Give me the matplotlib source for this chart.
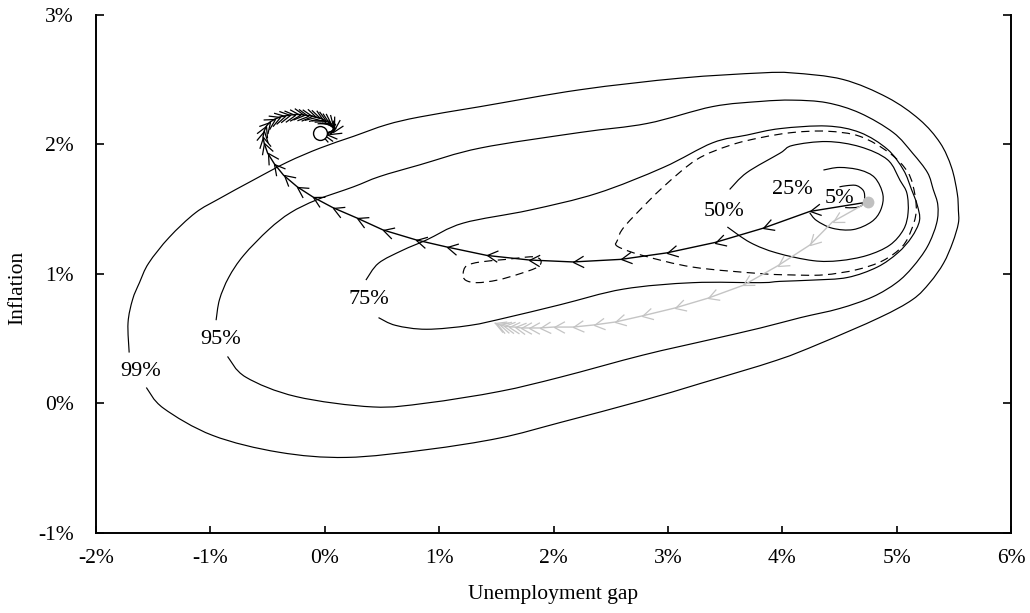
import numpy as np
import matplotlib
matplotlib.use('Agg')
import matplotlib.pyplot as plt
from matplotlib.path import Path
from matplotlib.patches import PathPatch
from matplotlib.markers import MarkerStyle
from matplotlib.transforms import Affine2D

plt.rcParams['font.family'] = ['Liberation Serif', 'DejaVu Serif']

# ---------------- data (unemployment gap %, inflation %) ----------------
c99_x = [-1.71, -1.72, -1.68, -1.62, -1.54, -1.36, -1.13, -0.92, -0.63, -0.33, -0.04, 0.25, 0.54, 0.83,
         1.36, 2.23, 3.11, 3.81, 4.09, 4.53, 4.92, 5.20, 5.38, 5.48, 5.53, 5.54, 5.54, 5.49, 5.41, 5.29,
         5.14, 4.85, 4.33, 3.95, 3.28, 2.78, 2.06, 1.53, 0.89, 0.19, -0.40, -0.98, -1.41, -1.56]
c99_y = [0.39, 0.62, 0.80, 0.93, 1.08, 1.28, 1.47, 1.58, 1.72, 1.86, 1.97, 2.06, 2.15, 2.21,
         2.29, 2.42, 2.51, 2.55, 2.55, 2.50, 2.36, 2.19, 2.01, 1.82, 1.62, 1.49, 1.39, 1.24, 1.08, 0.93,
         0.80, 0.66, 0.46, 0.33, 0.15, 0.02, -0.15, -0.27, -0.36, -0.42, -0.38, -0.25, -0.04, 0.12]

c95_x = [-0.95, -0.92, -0.84, -0.71, -0.49, -0.30, -0.07, 0.25, 0.48, 0.83, 1.36, 2.23, 2.82, 3.39,
         3.81, 4.09, 4.39, 4.68, 4.97, 5.14, 5.27, 5.32, 5.36, 5.35, 5.27, 5.14, 5.00, 4.79, 4.50, 4.16,
         3.81, 3.37, 2.78, 2.06, 1.53, 0.89, 0.42, -0.25, -0.69, -0.85]
c95_y = [0.64, 0.80, 0.97, 1.14, 1.34, 1.47, 1.57, 1.67, 1.75, 1.84, 1.97, 2.09, 2.16, 2.29,
         2.33, 2.34, 2.32, 2.24, 2.09, 1.93, 1.78, 1.65, 1.53, 1.39, 1.21, 1.05, 0.93, 0.82, 0.73, 0.66,
         0.58, 0.49, 0.37, 0.20, 0.09, 0.00, -0.03, 0.05, 0.20, 0.36]

c75_x = [0.36, 0.47, 0.68, 0.89, 1.21, 1.79, 2.38, 2.96, 3.39, 3.69, 3.98, 4.39, 4.68, 4.92, 5.06,
         5.13, 5.18, 5.20, 5.13, 5.01, 4.83, 4.57, 4.27, 3.98, 3.81, 3.22, 2.61, 2.06, 1.59, 1.27,
         0.89, 0.62, 0.47]
c75_y = [0.95, 1.08, 1.18, 1.26, 1.39, 1.49, 1.62, 1.82, 2.01, 2.07, 2.12, 2.14, 2.09, 1.96, 1.80,
         1.65, 1.53, 1.41, 1.28, 1.16, 1.05, 0.97, 0.95, 0.94, 0.93, 0.93, 0.88, 0.76, 0.66, 0.60,
         0.57, 0.60, 0.66]

c50_x = [3.54, 3.69, 3.98, 4.09, 4.39, 4.68, 4.92, 5.03, 5.09, 5.10, 5.06, 4.94, 4.74, 4.50, 4.27,
         3.95, 3.72, 3.52]
c50_y = [1.65, 1.78, 1.93, 1.99, 2.02, 1.98, 1.88, 1.72, 1.62, 1.47, 1.34, 1.22, 1.14, 1.10, 1.10,
         1.16, 1.24, 1.36]

c25_x = [4.36, 4.50, 4.68, 4.81, 4.88, 4.86, 4.78, 4.62, 4.44, 4.30, 4.24]
c25_y = [1.80, 1.82, 1.80, 1.74, 1.61, 1.49, 1.40, 1.34, 1.35, 1.41, 1.47]

c5_x = [4.50, 4.57, 4.65, 4.71, 4.72, 4.70, 4.64, 4.55]
c5_y = [1.67, 1.68, 1.68, 1.64, 1.58, 1.53, 1.51, 1.51]

dash_big_x = [2.56, 2.56, 2.60, 2.71, 2.96, 3.25, 3.54, 3.81, 4.09, 4.39, 4.68, 4.94, 5.10, 5.16,
              5.17, 5.13, 5.05, 4.88, 4.65, 4.36, 4.07, 3.81, 3.22, 2.78]
dash_big_y = [1.21, 1.26, 1.34, 1.45, 1.67, 1.88, 1.99, 2.05, 2.09, 2.10, 2.06, 1.93, 1.78, 1.61,
              1.47, 1.34, 1.21, 1.10, 1.03, 0.99, 0.99, 1.00, 1.05, 1.14]
dash_small_x = [1.21, 1.24, 1.36, 1.59, 1.82, 1.89, 1.86, 1.71, 1.51, 1.33, 1.23]
dash_small_y = [1.00, 1.06, 1.09, 1.11, 1.13, 1.10, 1.05, 1.00, 0.95, 0.93, 0.95]

label_text = ['99%', '95%', '75%', '50%', '25%', '5%']
label_x = [-1.61, -0.91, 0.39, 3.49, 4.09, 4.50]
label_y = [0.24, 0.49, 0.80, 1.48, 1.65, 1.58]

black_x = [4.75, 4.24, 3.83, 3.41, 2.99, 2.59, 2.17, 1.79, 1.42, 1.07, 0.80, 0.51, 0.28, 0.07, -0.10,
           -0.24, -0.36, -0.44, -0.50, -0.53, -0.54, -0.53, -0.51, -0.48, -0.435, -0.39, -0.35, -0.30,
           -0.26, -0.22, -0.18, -0.146, -0.111, -0.077, -0.042, -0.015, 0.011, 0.037, 0.055, 0.072,
           0.081, 0.081, 0.072, 0.046, 0.011, -0.015, -0.04]
black_y = [1.553, 1.48, 1.35, 1.24, 1.16, 1.11, 1.09, 1.105, 1.14, 1.205, 1.26, 1.337, 1.43, 1.51, 1.59,
           1.67, 1.76, 1.847, 1.932, 2.009, 2.055, 2.10, 2.14, 2.17, 2.194, 2.21, 2.218, 2.225,
           2.229, 2.229, 2.225, 2.221, 2.218, 2.21, 2.202, 2.19, 2.179, 2.167, 2.156, 2.14,
           2.125, 2.109, 2.094, 2.078, 2.075, 2.078, 2.086]

gray_x = [4.75, 4.44, 4.24, 3.96, 3.66, 3.35, 3.06, 2.77, 2.54, 2.35, 2.17, 2.00, 1.88, 1.79, 1.72,
          1.66, 1.61, 1.57, 1.53, 1.51, 1.49]
gray_y = [1.553, 1.40, 1.22, 1.06, 0.91, 0.81, 0.734, 0.672, 0.626, 0.603, 0.587, 0.587, 0.58, 0.58,
          0.58, 0.587, 0.59, 0.595, 0.603, 0.61, 0.617]

x_ticks = [-2, -1, 0, 1, 2, 3, 4, 5, 6]
y_ticks = [-1, 0, 1, 2, 3]
x_label = 'Unemployment gap'
y_label = 'Inflation'

# ---------------- figure ----------------
W, H = 1030, 613
fig = plt.figure(figsize=(W / 100, H / 100), dpi=100)
ax = fig.add_axes([96 / W, 1 - 532.5 / H, 915 / W, (532.5 - 14.7) / H])
ax.set_xlim(-2, 6)
ax.set_ylim(-1, 3)


def smooth_curve(xs, ys, closed=False):
    """Catmull-Rom curve through the read points, drawn as Bezier path."""
    P = np.column_stack([xs, ys]).astype(float)
    n = len(P)
    if closed:
        idx = lambda i: P[i % n]
        segs = n
    else:
        idx = lambda i: P[min(max(i, 0), n - 1)]
        segs = n - 1
    verts = [P[0]]
    codes = [Path.MOVETO]
    for i in range(segs):
        p0, p1, p2, p3 = idx(i - 1), idx(i), idx(i + 1), idx(i + 2)
        verts += [p1 + (p2 - p0) / 6.0, p2 - (p3 - p1) / 6.0, p2]
        codes += [Path.CURVE4] * 3
    return Path(verts, codes)


for xs, ys in [(c99_x, c99_y), (c95_x, c95_y), (c75_x, c75_y), (c50_x, c50_y),
               (c25_x, c25_y), (c5_x, c5_y)]:
    ax.add_patch(PathPatch(smooth_curve(xs, ys), fill=False, edgecolor='black', lw=0.85,
                           capstyle='butt', joinstyle='round', zorder=2))
for xs, ys in [(dash_big_x, dash_big_y), (dash_small_x, dash_small_y)]:
    ax.add_patch(PathPatch(smooth_curve(xs, ys, closed=True), fill=False, edgecolor='black',
                           lw=0.85, ls=(0, (7, 4.5)), zorder=2))

for t, x, y in zip(label_text, label_x, label_y):
    ax.text(x, y, t, ha='center', va='center', fontsize=16, zorder=6)

chev = Path([(-1.0, 0.55), (0.0, 0.0), (-1.0, -0.55)],
            [Path.MOVETO, Path.LINETO, Path.LINETO])


def chevrons(xs, ys, color, ms, z):
    pts = ax.transData.transform(np.column_stack([xs, ys]))
    for i in range(1, len(xs)):
        dx, dy = pts[i] - pts[i - 1]
        if abs(dx) < 1e-9 and abs(dy) < 1e-9:
            continue
        ang = np.degrees(np.arctan2(dy, dx))
        m = MarkerStyle(chev, transform=Affine2D().rotate_deg(ang))
        ax.plot([xs[i]], [ys[i]], marker=m, ms=ms, mfc='none', mec=color,
                mew=0.9, ls='none', zorder=z)


gray_c = '#c4c4c4'
ax.plot(gray_x, gray_y, color=gray_c, lw=1.0, zorder=3)
chevrons(gray_x, gray_y, gray_c, 15, 3)
ax.plot(black_x, black_y, color='black', lw=1.0, zorder=4)
chevrons(black_x, black_y, 'black', 15, 4)

ax.plot([gray_x[0]], [gray_y[0]], 'o', ms=8.5, color='#c0c0c0', mec='none', zorder=7)
ax.plot([black_x[-1]], [black_y[-1]], 'o', ms=10, mfc='white', mec='black', mew=1.0, zorder=8)

# ---------------- axes styling ----------------
ax.spines['top'].set_visible(False)
for s in ['left', 'bottom', 'right']:
    ax.spines[s].set_linewidth(1.4)
ax.set_xticks(x_ticks)
ax.set_yticks(y_ticks)
ax.set_xticklabels([f'{v}%' for v in x_ticks])
ax.set_yticklabels([f'{v}%' for v in y_ticks])
ax.tick_params(axis='x', direction='in', length=5, width=1.2, labelsize=15.5, pad=12)
ax.tick_params(axis='y', direction='in', length=6, width=1.2, labelsize=15.5, pad=16,
               right=True, labelright=False)

fig.text(553 / W, 1 - 595 / H, x_label, ha='center', va='center', fontsize=15.5)
fig.text(18 / W, 1 - 288 / H, y_label, ha='center', va='center', rotation=90, fontsize=15.5)

fig.savefig('out.png', dpi=100)
